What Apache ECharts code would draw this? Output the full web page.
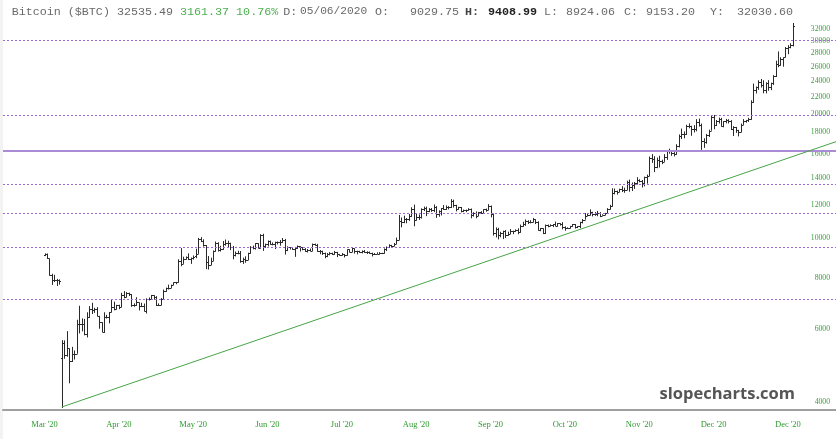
<!DOCTYPE html>
<html><head><meta charset="utf-8">
<script src="https://cdn.jsdelivr.net/npm/echarts@6/dist/echarts.min.js"></script>
<style>html,body{margin:0;padding:0;background:#fff}#c{width:836px;height:439px}</style>
</head><body><div id="c"></div>
<script>
// ---- data (daily bars, 6 Mar 2020 .. 2 Jan 2021) ----
const monthLabels = ["Mar '20","Apr '20","May '20","Jun '20","Jul '20","Aug '20","Sep '20","Oct '20","Nov '20","Dec '20","Dec '20"];
const labelIdx = [0,30,60,90,120,150,180,210,240,270,300];
const yTicks = [4000,6000,8000,10000,12000,14000,16000,18000,20000,22000,24000,26000,28000,30000,32000];
const levels = [30100,19800,13465,11484,9499,7107];
const solidLevel = 16232;
const trendStart = [7, 3890];
const trendEnd = [319.4, 17100];

const opens = [
9078,9122,8909,8108,7923,7909,7911,5100,5563,5200,5392,5014,5225,5238,6191,6198,6185,5830,6416,6734,6681,6716,6469,6242,5922,6429,
6438,6606,6793,6733,6867,6791,7271,7176,7335,7302,6865,6859,6971,6845,6842,6642,7116,7096,7257,7189,6881,6880,7117,7429,7550,7569,7679,7795,7807,8801,
8658,8864,8988,8897,8912,9029,9153,9951,9842,9593,8756,8601,8804,9269,9733,9328,9377,9670,9726,9729,9522,9081,9182,9209,8790,8906,8835,9181,9525,9439,9700,
9461,10167,9529,9656,9800,9665,9653,9758,9771,9795,9870,9321,9480,9475,9386,9450,9538,9480,9411,9288,9332,9303,9648,9629,9313,9264,9162,9045,9143,9190,
9137,9228,9123,9087,9132,9073,9375,9252,9428,9277,9278,9240,9277,9243,9243,9192,9132,9151,9159,9185,9164,9374,9525,9581,9536,9677,9905,10990,10912,11100,11111,
11323,11759,11053,11246,11205,11747,11779,11601,11754,11675,11878,11410,11584,11784,11768,11865,11892,12254,11991,11758,11878,11592,11681,11664,11774,11366,11488,11323,11542,11507,11711,
11680,11971,11414,10245,10511,10170,10280,10370,10131,10242,10364,10400,10443,10324,10680,10796,10974,10948,10944,11094,10938,10462,10538,10247,10763,10692,10750,10775,10709,10844,
10784,10619,10576,10550,10677,10793,10604,10668,10915,11064,11296,11384,11555,11425,11430,11505,11322,11358,11483,11742,11916,12823,12965,12931,13108,13031,13075,13654,13271,13437,13546,
13781,13737,13550,14028,14133,15579,15565,14833,15479,15332,15290,15701,16276,16317,16068,15955,16716,17645,17804,17817,18621,18642,18370,18364,19107,18732,17150,17108,17718,18177,
19625,18802,19201,19445,18699,19154,19345,19191,18321,18553,18264,18058,18803,19142,19246,19417,21310,22805,23137,23869,23477,22803,23783,23241,23735,24664,26437,26272,27084,27362,28840,
29001,29374];
const highs = [
9167,9163,8910,8178,8136,7950,7929,5650,5640,5940,5392,5440,5331,6329,6844,6378,6359,6599,6831,6958,6765,6792,6469,6242,6599,6504,
6612,7088,7003,6878,6883,7355,7427,7386,7363,7304,6936,7177,6971,6958,6928,7134,7167,7269,7257,7220,6934,7145,7491,7574,7700,7700,7795,7815,8871,9440,
9000,9012,9167,8956,9062,9409,9992,10035,9914,9595,9033,8949,9317,9793,9755,9564,9823,9906,9838,9729,9555,9264,9302,9288,8951,9018,9203,9546,9573,9704,9700,
10200,10228,9679,9853,9845,9741,9788,9796,9876,9988,9938,9536,9482,9486,9504,9579,9540,9482,9440,9394,9416,9683,9680,9665,9340,9305,9207,9187,9231,9204,
9292,9246,9134,9184,9133,9375,9377,9450,9431,9305,9300,9322,9339,9276,9262,9205,9186,9219,9231,9199,9422,9530,9645,9614,9712,10011,11358,11200,11316,11167,11425,
11858,12034,11457,11393,11786,11902,11898,11800,11806,12045,11935,11656,11800,12000,11982,11935,12409,12370,12021,11886,11878,11705,11704,11798,11777,11535,11586,11551,11597,11720,11771,
12067,11971,11448,10597,10574,10339,10405,10441,10347,10502,10403,10479,10548,10765,10933,11075,11026,11034,11172,11094,10966,10565,10538,10765,10770,10780,10795,10949,10859,10847,
10914,10660,10600,10686,10794,10798,10670,10936,11104,11480,11431,11719,11560,11545,11617,11540,11401,11488,11799,12017,13184,13162,13018,13155,13333,13225,13759,13837,13612,13651,14028,
13862,13815,14067,14231,15737,15956,15765,15645,15803,15460,15950,16320,16444,16317,16125,16860,17800,18393,18110,18790,18936,18688,18749,19390,19449,18915,17430,17853,18283,19749,
19845,19297,19554,19527,19177,19411,19382,19282,18640,18566,18264,18917,19394,19305,19538,21542,23642,23262,24085,24255,24090,23812,24100,23768,24785,26867,28288,27389,27370,28988,29300,
29600,33155];
const lows = [
9032,8890,8105,7690,7814,7642,7700,3867,5092,5150,4440,5000,5069,5236,5865,5932,5802,5734,6394,6536,6575,6452,6020,5906,5882,6374,
6202,6595,6671,6696,6715,6785,7136,7170,7224,6802,6806,6839,6668,6793,6633,6555,7050,7089,7079,6835,6834,6867,7080,7400,7491,7561,7679,7716,7786,8533,
8645,8856,8830,8645,8856,8924,9140,9772,9520,8395,8374,8592,8790,9255,9261,9260,9349,9570,9476,9337,8869,9012,9118,8700,8645,8700,8834,9148,9379,9366,9432,
9421,9295,9457,9531,9618,9589,9391,9638,9570,9728,9105,9285,9367,9347,8990,9401,9264,9328,9242,9213,9280,9291,9577,9248,9125,9086,8924,8977,9069,9092,
9101,8980,9054,9058,8962,9058,9220,9239,9156,9120,9198,9167,9196,9136,9147,9011,9089,9137,9108,9137,9150,9286,9462,9460,9534,9656,9880,10600,10850,10843,10988,
11239,10660,11012,11048,11133,11606,11285,11540,11556,11544,11175,11249,11329,11685,11687,11717,11806,11840,11588,11705,11526,11541,11537,11631,11148,11256,11150,11293,11424,11466,11568,
11662,11210,10125,10021,9911,10030,9930,9993,10110,10214,10206,10340,10201,10284,10637,10690,10801,10840,10903,10796,10406,10375,10208,10215,10605,10668,10616,10676,10648,10704,
10482,10400,10507,10535,10636,10531,10554,10554,10835,11064,11288,11327,11267,11305,11280,11223,11322,11347,11428,11710,11900,12740,12725,12903,12910,12855,13063,12933,12980,13136,13457,
13628,13243,13330,13526,14102,15191,14423,14745,14805,15087,15279,15450,15995,15800,15750,15900,16562,17352,17419,17758,18424,17671,18000,18119,18600,16334,16520,16908,17548,18177,
18330,18662,18918,18596,18530,18943,18930,18250,17650,17957,17611,18028,18771,19010,19090,19328,21234,22375,22829,23130,22400,22390,22722,22797,23460,24529,25907,26117,25988,27362,27860,
28803,29091];
const closes = [
9122,8909,8108,7923,7909,7911,7850,5563,5200,5392,5014,5225,5238,6191,6198,6185,5830,6416,6734,6681,6716,6469,6242,5922,6429,6438,
6606,6793,6733,6867,6791,7271,7176,7335,7302,6865,6859,6971,6845,6842,6642,7116,7096,7257,7189,6881,6880,7117,7429,7550,7569,7679,7795,7807,8801,8658,
8864,8988,8897,8912,9003,9153,9951,9842,9593,8756,8601,8804,9269,9733,9328,9377,9670,9726,9729,9522,9081,9182,9209,8790,8906,8835,9181,9525,9439,9700,9461,
10167,9529,9656,9800,9665,9653,9758,9771,9795,9870,9321,9480,9475,9386,9450,9538,9480,9411,9288,9332,9303,9648,9629,9313,9264,9162,9045,9143,9190,9137,
9228,9123,9087,9132,9073,9375,9252,9428,9277,9278,9240,9277,9243,9243,9192,9132,9151,9159,9185,9164,9374,9525,9581,9536,9677,9905,10990,10912,11100,11111,11323,
11759,11053,11246,11205,11747,11779,11601,11754,11675,11878,11410,11584,11784,11768,11865,11892,12254,11991,11758,11878,11592,11681,11664,11774,11366,11488,11323,11542,11507,11711,11680,
11971,11414,10245,10511,10170,10280,10370,10131,10242,10364,10400,10443,10324,10680,10796,10974,10948,10944,11094,10938,10462,10538,10247,10763,10692,10750,10775,10709,10844,10784,
10619,10576,10550,10677,10793,10604,10668,10915,11064,11296,11384,11555,11425,11430,11505,11322,11358,11483,11742,11916,12823,12965,12931,13108,13031,13075,13654,13271,13437,13546,13781,
13737,13550,14028,14133,15579,15565,14833,15479,15332,15290,15701,16276,16317,16068,15955,16716,17645,17804,17817,18621,18642,18370,18364,19107,18732,17150,17108,17718,18177,19625,
18802,19201,19445,18699,19154,19345,19191,18321,18553,18264,18058,18803,19142,19246,19417,21310,22805,23137,23869,23477,22803,23783,23241,23735,24664,26437,26272,27084,27362,28840,29001,
29374,32535];

// ---- chart ----
const bars = closes.map((c, i) => [i, opens[i], highs[i], lows[i], c]);
const chart = echarts.init(document.getElementById('c'), null, {renderer: 'canvas'});

const dotStyle = {type: [2, 2], color: '#9b6ad2', width: 1};
const mlData = levels.map(v => ({yAxis: v, lineStyle: dotStyle}));
mlData.push({yAxis: solidLevel, lineStyle: {type: 'solid', color: '#a98bd6', width: 2}});
mlData.push([{coord: trendStart}, {coord: trendEnd, lineStyle: {type: 'solid', color: '#46a546', width: 1}}]);

const hdrFont = "'Liberation Mono', 'Courier New', monospace";
const hdr = [
  [11.7, 'Bitcoin ($BTC) 32535.49', '#6a6a6a', 'normal'],
  [180, '3161.37 10.76%', '#4caf50', 'normal'],
  [283.3, 'D:', '#6a6a6a', 'normal'],
  [300, '05/06/2020', '#6a6a6a', 'normal'],
  [375, 'O:', '#6a6a6a', 'normal'],
  [410, '9029.75', '#6a6a6a', 'normal'],
  [465, 'H:', '#444', 'bold'],
  [488, '9408.99', '#222', 'bold'],
  [544, 'L:', '#6a6a6a', 'normal'],
  [566, '8924.06', '#6a6a6a', 'normal'],
  [624, 'C:', '#6a6a6a', 'normal'],
  [646, '9153.20', '#6a6a6a', 'normal'],
  [710, 'Y:', '#6a6a6a', 'normal'],
  [737, '32030.60', '#6a6a6a', 'normal']
];
const graphics = hdr.map(h => ({
  type: 'text', left: h[0], top: 6,
  style: {text: h[1], fill: h[2], font: h[3] + " " + (h[1] === '05/06/2020' ? 11.2 : 11.7) + "px " + hdrFont}
}));
graphics.push({type: 'text', right: 41, top: 386,
  style: {text: 'slopecharts.com', fill: '#555', font: "bold 16.5px 'Open Sans', sans-serif"}});
graphics.push({type: 'rect', left: 0, top: 0, shape: {width: 3, height: 439}, style: {fill: '#f3f3f3'}});

chart.setOption({
  animation: false,
  backgroundColor: '#fff',
  grid: {left: 3, right: 0, top: 20, bottom: 29},
  xAxis: {
    type: 'value', min: -16.75, max: 319.4,
    axisLine: {show: true, lineStyle: {color: '#a0a0a0', width: 2}},
    axisTick: {show: false}, splitLine: {show: false},
    axisLabel: {
      customValues: labelIdx,
      formatter: v => monthLabels[Math.round(v / 30)],
      color: '#2e9a2e', fontFamily: "'Liberation Serif', serif", fontSize: 8.5, margin: 10
    }
  },
  yAxis: {
    type: 'log', position: 'right', min: 3825, max: 33718,
    axisLine: {show: false}, axisTick: {show: false}, splitLine: {show: false},
    axisLabel: {
      inside: true, customValues: yTicks, margin: 6,
      formatter: v => String(Math.round(v)),
      color: '#3d9b3d', fontFamily: "'Liberation Serif', serif", fontSize: 7.7
    }
  },
  graphic: graphics,
  series: [{
    type: 'custom',
    data: bars,
    encode: {x: 0, y: [1, 2, 3, 4]},
    clip: true,
    renderItem: (params, api) => {
      const x = api.value(0);
      const pH = api.coord([x, api.value(2)]);
      const pL = api.coord([x, api.value(3)]);
      const pO = api.coord([x, api.value(1)]);
      const pC = api.coord([x, api.value(4)]);
      const cx = Math.round(pH[0]) + 0.5;
      const oy = Math.round(pO[1]) + 0.5, cy = Math.round(pC[1]) + 0.5;
      const st = {stroke: '#2a2a2a', lineWidth: 1};
      return {type: 'group', children: [
        {type: 'line', shape: {x1: cx, y1: pH[1], x2: cx, y2: pL[1]}, style: st},
        {type: 'line', shape: {x1: cx - 1.5, y1: oy, x2: cx, y2: oy}, style: st},
        {type: 'line', shape: {x1: cx, y1: cy, x2: cx + 1.5, y2: cy}, style: st}
      ]};
    },
    markLine: {
      silent: true, symbol: ['none', 'none'], label: {show: false},
      animation: false, data: mlData
    }
  }]
});
</script></body></html>
